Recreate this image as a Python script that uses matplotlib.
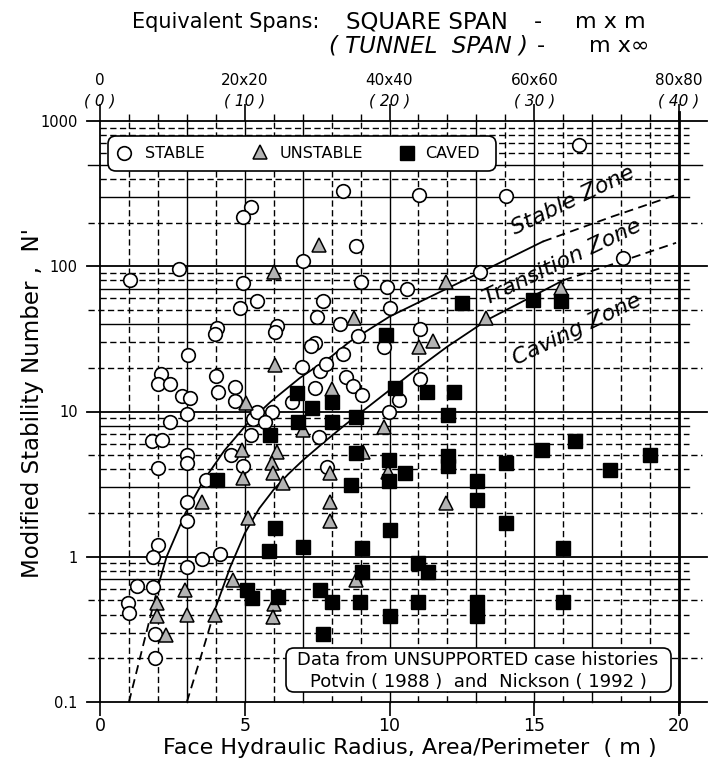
import matplotlib
matplotlib.use("Agg")
import matplotlib.pyplot as plt
from matplotlib.patches import FancyBboxPatch
from matplotlib.transforms import IdentityTransform, blended_transform_factory
from matplotlib.ticker import NullLocator, FixedLocator

plt.rcParams['font.family'] = ['DejaVu Sans']

# ---------------- data ----------------
STABLE_X = [16.56, 8.38, 11.03, 14.02, 5.2, 4.94, 8.86, 18.05, 7.0, 2.72,
            13.13, 1.04, 4.95, 9.0, 9.9, 10.62, 5.41, 7.72, 4.85, 10.0,
            7.48, 8.29, 4.03, 3.97, 6.1, 6.05, 8.9, 11.07, 9.81, 7.43,
            7.29, 3.03, 8.4, 6.99, 7.6, 7.81, 8.49, 2.1, 1.99, 2.42,
            2.82, 3.11, 4.0, 4.09, 4.66, 4.66, 8.75, 9.04, 7.43, 10.34,
            11.05, 6.62, 5.27, 2.99, 2.42, 1.78, 2.15, 5.2, 5.41, 5.93,
            5.7, 9.99, 7.58, 4.52, 3.0, 3.0, 2.0, 4.95, 3.66, 3.0,
            3.02, 2.01, 1.84, 3.51, 4.14, 3.0, 1.27, 1.82, 0.98, 1.01,
            1.9, 1.9, 7.83]
STABLE_Y = [680, 330, 310, 305, 255, 218, 137, 114, 108, 96,
            91, 80, 77, 78, 72, 70, 58, 58, 52, 52,
            44.7, 40, 37.5, 34.3, 38.5, 35, 33, 37, 28, 29.6,
            28.3, 24.6, 25, 20.4, 18.9, 21.3, 17.4, 18.2, 15.5, 15.5,
            12.8, 12.4, 17.6, 13.7, 14.7, 11.9, 14.9, 13.0, 14.5, 12.0,
            16.7, 11.7, 8.9, 9.6, 8.4, 6.3, 6.4, 6.9, 9.85, 9.85,
            8.5, 10.0, 6.7, 5.0, 5.0, 4.4, 4.1, 4.2, 3.39, 2.4,
            1.75, 1.21, 0.99, 0.97, 1.04, 0.85, 0.63, 0.62, 0.48, 0.41,
            0.295, 0.20, 4.17]

UNSTABLE_X = [7.58, 6.02, 11.95, 15.92, 8.79, 13.32, 11.03, 11.51, 6.04, 8.0,
              5.03, 9.81, 7.02, 4.89, 6.1, 9.1, 5.95, 5.97, 6.33, 4.95,
              3.51, 5.12, 7.94, 7.94, 7.94, 11.95, 9.96, 4.6, 2.94, 1.98,
              1.96, 3.0, 3.97, 2.27, 8.86, 6.0, 5.99]
UNSTABLE_Y = [140, 92, 78.5, 70.6, 44, 44, 27.7, 30.8, 21, 14.3,
              11.4, 7.8, 7.5, 5.45, 5.3, 5.3, 4.4, 3.8, 3.2, 3.5,
              2.37, 1.85, 3.8, 2.4, 1.75, 2.36, 3.86, 0.69, 0.59, 0.48,
              0.39, 0.40, 0.395, 0.29, 0.69, 0.47, 0.385]

CAVED_X = [12.49, 14.97, 15.92, 9.88, 10.2, 11.28, 12.23, 6.79, 7.31, 8.0,
           8.0, 8.84, 6.85, 5.87, 8.84, 9.99, 9.99, 10.54, 8.66, 12.03,
           12.03, 12.03, 14.02, 15.26, 16.41, 19.0, 17.62, 13.01, 13.03, 14.02,
           10.02, 6.04, 5.85, 7.02, 9.04, 9.04, 15.98, 11.0, 11.34, 11.0,
           13.03, 13.03, 15.98, 10.02, 5.07, 5.24, 6.16, 7.6, 8.0, 8.98,
           7.69, 4.03]
CAVED_Y = [55.7, 58.7, 58, 33.7, 14.5, 13.7, 13.7, 13.4, 10.5, 11.6,
           8.5, 9.15, 8.5, 6.9, 5.2, 4.65, 3.3, 3.8, 3.13, 9.5,
           4.9, 4.2, 4.4, 5.4, 6.3, 5.0, 3.93, 3.3, 2.47, 1.72,
           1.53, 1.58, 1.09, 1.17, 1.15, 0.78, 1.15, 0.9, 0.78, 0.49,
           0.485, 0.393, 0.485, 0.39, 0.59, 0.52, 0.53, 0.59, 0.485, 0.49,
           0.295, 3.35]

# Stable / transition boundary (dashed ends, solid middle)
UPPER_LO_X = [1.0, 1.5, 2.0]
UPPER_LO_Y = [0.1, 0.25, 0.62]
UPPER_X = [2.0, 2.3, 2.95, 3.6, 4.3, 5.1, 5.9, 6.9, 8.0, 8.6, 10.0, 11.5, 13.1, 15.3]
UPPER_Y = [0.62, 1.0, 2.0, 3.4, 5.4, 8.3, 11.7, 17.0, 24.0, 30.0, 45, 63, 90, 148]
UPPER_HI_X = [15.3, 17.7, 19.9]
UPPER_HI_Y = [148, 220, 310]

# Transition / caving boundary
LOWER_LO_X = [3.0, 3.5, 4.0]
LOWER_LO_Y = [0.1, 0.21, 0.45]
LOWER_X = [4.0, 4.5, 5.0, 5.5, 6.0, 6.5, 7.0, 7.8, 8.5, 9.0, 9.7, 10.7, 12.0, 13.4, 16.0]
LOWER_Y = [0.45, 0.85, 1.45, 2.15, 2.9, 3.7, 4.6, 6.3, 8.2, 9.8, 12.6, 18.0, 28.0, 43, 80]
LOWER_HI_X = [16.0, 18.0, 19.9]
LOWER_HI_Y = [80, 108, 145]

X_TICKS = [0, 5, 10, 15, 20]
TOP_LABELS = ['0', '20x20', '40x40', '60x60', '80x80']
TOP_SUB = ['( 0 )', '( 10 )', '( 20 )', '( 30 )', '( 40 )']
Y_TICKS = [0.1, 1, 10, 100, 1000]
Y_LABELS = ['0.1', '1', '10', '100', '1000']
SOLID_MINOR = [0.7, 3, 8, 40, 70, 300, 500]
SOLID_VERT = [3, 5, 7, 10, 13, 15, 17]

# ---------------- figure ----------------
W, H = 710, 774
fig = plt.figure(figsize=(W / 100, H / 100), dpi=100)
L, R, T, B = 100, 679, 121, 702
ax = fig.add_axes([L / W, 1 - B / H, (R - L) / W, (B - T) / H])
ax.set_yscale('log')
ax.set_xlim(0, 20)
ax.set_ylim(0.1, 1000)
for s in ax.spines.values():
    s.set_visible(False)


def fy(py):
    return (B - py) / (B - T)


DASH = (0, (4.5, 2.5))
K = 'black'

# vertical grid lines
for x in range(0, 21):
    if x == 0:
        ax.plot([0, 0], [0.1, 1000], color=K, lw=1.3, clip_on=False, zorder=1)
    elif x == 20:
        ax.plot([20, 20], [0.085, 1150], color=K, lw=2.0, clip_on=False, zorder=2)
    elif x in SOLID_VERT:
        ax.plot([x, x], [0.1, 1000], color=K, lw=1.0, clip_on=False, zorder=1)
    else:
        ax.plot([x, x], [0.1, 1000], color=K, lw=1.0, ls=DASH, clip_on=False, zorder=1)

# horizontal grid lines
for d in Y_TICKS:
    ax.plot([-0.45, 20.95], [d, d], color=K, lw=1.3, clip_on=False, zorder=1)
for d in Y_TICKS[:-1]:
    for m in range(2, 10):
        v = round(m * d, 6)
        if m in (2, 5):
            x0, x1 = -0.4, 20.8
        else:
            x0, x1 = 0, 20.35
        ls = '-' if any(abs(v - s) < 1e-6 * s for s in SOLID_MINOR) else DASH
        ax.plot([x0, x1], [v, v], color=K, lw=1.0, ls=ls, clip_on=False, zorder=1)

# boundary curves
CDASH = (0, (5, 3))
for xs, ys, ls in [(UPPER_LO_X, UPPER_LO_Y, CDASH), (UPPER_X, UPPER_Y, '-'),
                   (UPPER_HI_X, UPPER_HI_Y, CDASH),
                   (LOWER_LO_X, LOWER_LO_Y, CDASH), (LOWER_X, LOWER_Y, '-'),
                   (LOWER_HI_X, LOWER_HI_Y, CDASH)]:
    ax.plot(xs, ys, color=K, lw=1.3, ls=ls, zorder=3)

# data points
ax.plot(STABLE_X, STABLE_Y, ls='none', marker='o', ms=9.8, mfc='white', mec=K,
        mew=1.2, zorder=5)
ax.plot(UNSTABLE_X, UNSTABLE_Y, ls='none', marker='^', ms=10, mfc='#b3b3b3', mec=K,
        mew=1.1, zorder=5)
ax.plot(CAVED_X, CAVED_Y, ls='none', marker='s', ms=10.5, mfc=K, mec=K,
        mew=1.0, zorder=5)

# zone labels
for txt, x, y in [('Stable Zone', 16.34, 286), ('Transition Zone', 15.96, 107),
                  ('Caving Zone', 16.48, 36.5)]:
    ax.text(x, y, txt, rotation=25.7, style='italic', fontsize=16,
            ha='center', va='center', zorder=6, rotation_mode='anchor')

# ticks
ax.set_yticks(Y_TICKS)
ax.set_yticklabels(Y_LABELS)
ax.yaxis.set_minor_locator(NullLocator())
ax.tick_params(axis='y', length=0, pad=16, labelsize=10.5)
ax.set_xticks(X_TICKS)
ax.set_xticklabels([str(v) for v in X_TICKS])
ax.xaxis.set_minor_locator(NullLocator())
ax.tick_params(axis='x', length=10, width=1.2, direction='out', pad=1, labelsize=12.5)

sec = ax.secondary_xaxis('top')
sec.set_xticks(X_TICKS)
sec.set_xticklabels(TOP_LABELS)
sec.xaxis.set_minor_locator(FixedLocator(list(range(0, 21))))
sec.tick_params(which='major', length=12, width=1.2, pad=12, labelsize=11)
sec.tick_params(which='minor', length=5, width=1.0)
sec.spines['top'].set_visible(False)

btr = blended_transform_factory(ax.transData, ax.transAxes)
for x, s in zip(X_TICKS, TOP_SUB):
    ax.text(x, fy(101), s, transform=btr, ha='center', va='center',
            style='italic', fontsize=11, clip_on=False)

# axis labels
fig.text(410 / W, 1 - 748 / H, 'Face Hydraulic Radius, Area/Perimeter  ( m )',
         ha='center', va='center', fontsize=16)
fig.text(33 / W, 1 - 403 / H, "Modified Stability Number ,  N'", rotation=90,
         ha='center', va='center', fontsize=16.5)

# top header
fig.text(132 / W, 1 - 22 / H, 'Equivalent Spans:', ha='left', va='center', fontsize=15)
fig.text(346 / W, 1 - 22 / H, 'SQUARE SPAN', ha='left', va='center', fontsize=16.5)
fig.text(538 / W, 1 - 22 / H, '-', ha='center', va='center', fontsize=16)
fig.text(646 / W, 1 - 22 / H, 'm x m', ha='right', va='center', fontsize=16)
fig.text(528 / W, 1 - 46 / H, '( TUNNEL  SPAN )', ha='right', va='center',
         fontsize=16.5, style='italic')
fig.text(541 / W, 1 - 46 / H, '-', ha='center', va='center', fontsize=16)
fig.text(649 / W, 1 - 46 / H, 'm x\u221e', ha='right', va='center', fontsize=16)

# legend box
ID = IdentityTransform()
leg = FancyBboxPatch((108, H - 171), 388, 35, boxstyle='round,pad=0,rounding_size=8',
                     transform=ID, facecolor='white', edgecolor=K, lw=1.2, zorder=7)
fig.patches.append(leg)
fig.lines.append(plt.Line2D([124 / W], [1 - 153 / H], transform=fig.transFigure,
                            marker='o', ms=9.8, mfc='white', mec=K, mew=1.2, ls='none', zorder=8))
fig.lines.append(plt.Line2D([260 / W], [1 - 152 / H], transform=fig.transFigure,
                            marker='^', ms=10, mfc='#b3b3b3', mec=K, mew=1.1, ls='none', zorder=8))
fig.lines.append(plt.Line2D([407 / W], [1 - 153 / H], transform=fig.transFigure,
                            marker='s', ms=10.5, mfc=K, mec=K, ls='none', zorder=8))
fig.text(145 / W, 1 - 153 / H, 'STABLE', ha='left', va='center', fontsize=11.5, zorder=8)
fig.text(280 / W, 1 - 153 / H, 'UNSTABLE', ha='left', va='center', fontsize=11.5, zorder=8)
fig.text(425 / W, 1 - 153 / H, 'CAVED', ha='left', va='center', fontsize=11.5, zorder=8)

# note box
note = FancyBboxPatch((286, H - 692), 385, 44, boxstyle='round,pad=0,rounding_size=8',
                      transform=ID, facecolor='white', edgecolor=K, lw=1.2, zorder=7)
fig.patches.append(note)
fig.text(478 / W, 1 - 660 / H, 'Data from UNSUPPORTED case histories', ha='center',
         va='center', fontsize=13, zorder=8)
fig.text(478 / W, 1 - 682 / H, 'Potvin ( 1988 )  and  Nickson ( 1992 )', ha='center',
         va='center', fontsize=13, zorder=8)

fig.savefig('out.png', dpi=100)
